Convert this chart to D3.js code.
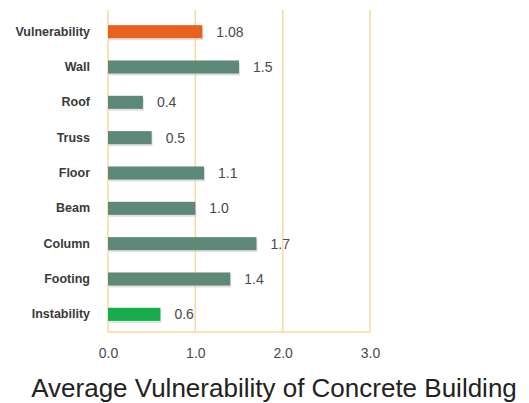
<!DOCTYPE html>
<html>
<head>
<meta charset="utf-8">
<script src="https://cdn.jsdelivr.net/npm/d3@7"></script>
<style>
  body { margin: 0; background: #fff; }
  svg { display: block; font-family: "Liberation Sans", Arial, sans-serif; }
</style>
</head>
<body>
<div></div>
<script>
const width = 529
const height = 403

const categories = ['Vulnerability', 'Wall', 'Roof', 'Truss', 'Floor', 'Beam', 'Column', 'Footing', 'Instability']
const values = [1.08, 1.5, 0.4, 0.5, 1.1, 1.0, 1.7, 1.4, 0.6]
const valueLabels = ['1.08', '1.5', '0.4', '0.5', '1.1', '1.0', '1.7', '1.4', '0.6']
const tickValues = [0, 1, 2, 3]
const title = 'Average Vulnerability of Concrete Building'

const barColors = { Vulnerability: '#e8621f', Instability: '#16ad4a' }
const defaultColor = '#5e8878'

let svg = d3.select('div').append('svg')
    .attr('width', width)
    .attr('height', height)

const x = d3.scaleLinear().domain([0, 3]).range([108, 370])
const y = d3.scaleBand().domain(categories).range([14, 332]).paddingInner(0.63).paddingOuter(0.315)

const data = categories.map((c, i) => ({ name: c, value: values[i], label: valueLabels[i] }))

// gridlines
svg.selectAll('line.grid')
    .data(tickValues)
    .enter()
    .append('line')
    .attr('class', 'grid')
    .attr('x1', d => x(d))
    .attr('x2', d => x(d))
    .attr('y1', 10)
    .attr('y2', 332)
    .style('stroke', '#f6dc9c')
    .style('stroke-width', 1.5)

svg.append('line')
    .attr('x1', x(0))
    .attr('x2', x(3))
    .attr('y1', 332)
    .attr('y2', 332)
    .style('stroke', '#f6dc9c')
    .style('stroke-width', 1.5)

// bottom axis, ticks hidden
const xAxis = svg.append('g')
    .attr('transform', 'translate(0,345)')
    .call(d3.axisBottom(x).tickValues(tickValues).tickFormat(d3.format('.1f')).tickSize(0))
xAxis.select('.domain').remove()
xAxis.selectAll('text')
    .style('font-size', '14px')
    .style('font-family', '"Liberation Sans", Arial, sans-serif')
    .style('fill', '#4a4a4a')

// category labels
const yAxis = svg.append('g')
    .attr('transform', 'translate(90,0)')
    .call(d3.axisLeft(y).tickSize(0).tickPadding(0))
yAxis.select('.domain').remove()
yAxis.selectAll('text')
    .style('font-size', '12.5px')
    .style('font-weight', 'bold')
    .style('font-family', '"Liberation Sans", Arial, sans-serif')
    .style('fill', '#3a3a3a')

// bars
const bar = svg.selectAll('g.bar')
    .data(data)
    .enter()
    .append('g')
    .attr('class', 'bar')

bar.append('rect')
    .attr('x', x(0) + 1)
    .attr('y', d => y(d.name) + 2)
    .attr('width', d => x(d.value) - x(0))
    .attr('height', y.bandwidth())
    .style('fill', '#cfcfcf')
    .style('opacity', 0.6)

bar.append('rect')
    .attr('x', x(0))
    .attr('y', d => y(d.name))
    .attr('width', d => x(d.value) - x(0))
    .attr('height', y.bandwidth())
    .style('fill', d => barColors[d.name] || defaultColor)

bar.append('text')
    .attr('x', d => x(d.value) + 14)
    .attr('y', d => y(d.name) + y.bandwidth() / 2)
    .attr('dy', '0.35em')
    .style('font-size', '14px')
    .style('fill', '#4a4a4a')
    .text(d => d.label)

svg.append('text')
    .attr('x', 274)
    .attr('y', 397)
    .attr('text-anchor', 'middle')
    .style('font-size', '26px')
    .style('fill', '#222')
    .text(title)
</script>
</body>
</html>
